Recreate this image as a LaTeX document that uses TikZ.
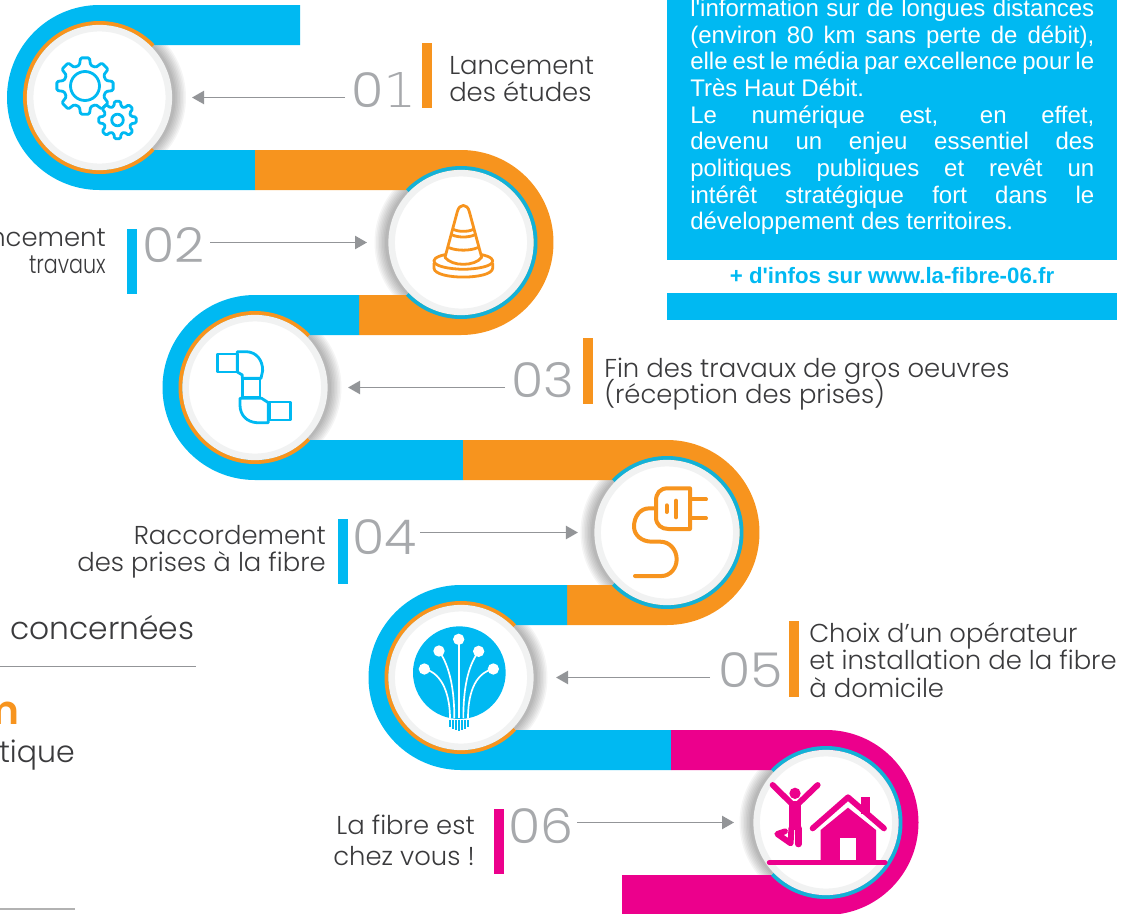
\documentclass[tikz,border=0pt]{standalone}
\usepackage{fontspec}
\usepackage{graphicx}
\setmainfont{Poppins}[UprightFont=*-Light,BoldFont=*-SemiBold]
\newfontfamily\panelfont{Liberation Sans}
\newfontfamily\footone{DejaVu Sans ExtraLight}
\usetikzlibrary{arrows.meta}
\lineskiplimit=-30pt\relax
\definecolor{cyanb}{HTML}{00B9F2}
\definecolor{orangeb}{HTML}{F7941E}
\definecolor{pinkb}{HTML}{EC008C}
\definecolor{ringteal}{HTML}{14B1D6}
\definecolor{numgray}{HTML}{A7A9AC}
\definecolor{arrgray}{HTML}{939598}
\definecolor{txtgray}{HTML}{3A3A3C}
\definecolor{softgray}{HTML}{F1F2F2}
\tikzset{
  band/.style={line width=30pt,line cap=butt,line join=round},
  disc/.style={circle,draw=softgray,line width=4.9pt,fill=white,minimum size=104pt,inner sep=0pt,outer sep=0pt},
  ringarc/.style={line width=3pt,line cap=butt},
  shadowdisc/.style={fill=black,fill opacity=.04,draw=none},
  arrowline/.style={draw=arrgray,line width=1pt,-{Triangle[length=9pt,width=10pt]}},
  numlabel/.style={font=\fontsize{36}{36}\selectfont,text=numgray,inner sep=0pt,anchor=base west,xscale=1.09},
  steptext/.style={font=\fontsize{19.4}{20}\selectfont,text=txtgray,inner sep=0pt},
  iconline/.style={line width=2.1pt,line cap=round,line join=round},
}
\newcommand{\shadowset}[3]{%
  \foreach \r in {73,74.5,...,83.5}{\fill[shadowdisc] (#1+#3*3,#2) circle (\r);}}
\newcommand{\geargear}[4]{% cx cy rout rin
  \draw[cyanb,iconline,rounded corners=1pt,shift={(#1,#2)}] (-22.5:#4)
    \foreach \i in {0,45,...,315}{ -- (\i-15:#4) -- (\i-9:#3) -- (\i+9:#3) -- (\i+15:#4)} -- cycle;}
\begin{document}
\begin{tikzpicture}[x=0.75pt,y=-0.75pt]
\clip (0,0) rectangle (1133,914);
\useasboundingbox (0,0) rectangle (1133,914);
% shadows
\shadowset{99.5}{97.5}{1}
\shadowset{461}{242.5}{-1}
\shadowset{255}{387.5}{1}
\shadowset{667}{532.5}{-1}
\shadowset{461}{677.5}{1}
\shadowset{826}{822.5}{-1}
% ribbon
\draw[band,cyanb] (300,25) -- (99.5,25) arc[start angle=270,end angle=90,radius=72.5] -- (255,170);
\draw[band,orangeb] (255,170) -- (461,170) arc[start angle=-90,end angle=90,radius=72.5] -- (359,315);
\draw[band,cyanb] (359,315) -- (255,315) arc[start angle=270,end angle=90,radius=72.5] -- (463,460);
\draw[band,orangeb] (463,460) -- (667,460) arc[start angle=-90,end angle=90,radius=72.5] -- (567,605);
\draw[band,cyanb] (567,605) -- (461,605) arc[start angle=270,end angle=90,radius=72.5] -- (671,750);
\draw[band,pinkb] (671,750) -- (826,750) arc[start angle=-90,end angle=90,radius=72.5] -- (622,895);
% rings
\draw[ringarc,orangeb] (99.5,97.5) ++(44:74.5) arc[start angle=44,end angle=316,radius=74.5];
\draw[ringarc,ringteal] (461,242.5) ++(136:74.5) arc[start angle=136,end angle=-136,radius=74.5];
\draw[ringarc,orangeb] (255,387.5) ++(44:74.5) arc[start angle=44,end angle=316,radius=74.5];
\draw[ringarc,ringteal] (667,532.5) ++(136:74.5) arc[start angle=136,end angle=-136,radius=74.5];
\draw[ringarc,orangeb] (461,677.5) ++(44:74.5) arc[start angle=44,end angle=316,radius=74.5];
\draw[ringarc,ringteal] (826,822.5) ++(136:74.5) arc[start angle=136,end angle=-136,radius=74.5];
% discs
\node[disc] (c1) at (99.5,97.5) {};
\node[disc] (c2) at (461,242.5) {};
\node[disc] (c3) at (255,387.5) {};
\node[disc] (c4) at (667,532.5) {};
\node[disc] (c5) at (461,677.5) {};
\node[disc] (c6) at (826,822.5) {};
% gears
\geargear{85}{86}{28.5}{21.5}
\draw[cyanb,iconline] (85,86) circle (14.5);
\geargear{117.5}{120}{19}{14}
\draw[cyanb,iconline] (117.5,120) circle (5.8);
% cone
\begin{scope}[shift={(370,150)},x=0.25pt,y=-0.25pt,orangeb,iconline]
\draw (225,322) -- (262,185) .. controls (268,160) and (292,160) .. (298,185) -- (335,322);
\draw (250,238) .. controls (265,246) and (295,246) .. (310,238);
\draw (247,255) .. controls (265,263) and (295,263) .. (313,255);
\draw (237,293) .. controls (260,303) and (300,303) .. (323,293);
\draw (225,322) .. controls (245,350) and (315,350) .. (335,322);
\draw (225,314) .. controls (170,325) and (180,355) .. (280,358) .. controls (380,355) and (390,325) .. (335,314);
\draw (192,340) -- (192,355) .. controls (195,390) and (365,390) .. (368,355) -- (368,340);
\end{scope}
% pipes
\begin{scope}[shift={(160,300)},x=0.25pt,y=-0.25pt,cyanb,iconline]
\draw (172,162) rectangle (232,216);
\draw (232,216) -- (232,155) -- (260,155) .. controls (290,157) and (308,180) .. (308,212) -- (303,235) -- (247,235) -- (247,225) -- (232,216);
\draw (248,235) rectangle (300,292);
\draw (240,295) -- (305,295) -- (325,308) -- (325,368) -- (290,368) .. controls (260,366) and (240,345) .. (240,315) -- cycle;
\draw (328,306) rectangle (392,360);
\end{scope}
% plug
\begin{scope}[shift={(580,440)},x=0.25pt,y=-0.25pt,orangeb,line width=3pt,line cap=round,line join=round]
\draw (330,145) -- (262,145) .. controls (240,145) and (228,160) .. (228,182) -- (228,232) .. controls (228,255) and (245,267) .. (265,267) -- (330,267) -- cycle;
\draw (330,178) -- (378,178) (330,235) -- (378,235);
\draw (260,196) -- (260,216) (288,182) -- (288,232);
\draw (228,205) -- (208,205) .. controls (180,205) and (162,230) .. (162,260) .. controls (162,285) and (185,305) .. (215,305) -- (240,305) .. controls (270,305) and (290,330) .. (290,358) .. controls (290,385) and (270,408) .. (245,408) -- (165,408);
\end{scope}
% fibre
\begin{scope}[shift={(370,590)},x=0.25pt,y=-0.25pt]
\fill[cyanb] (268,248) circle (139);
\begin{scope}[white,line width=1.25pt]
\draw (266,148) -- (266,385);
\draw (207,183) .. controls (240,230) and (253,300) .. (253,385);
\draw (326,184) .. controls (292,230) and (280,300) .. (280,385);
\draw (163,237) .. controls (220,250) and (240,320) .. (240,385);
\draw (370,237) .. controls (310,250) and (294,320) .. (294,385);
\fill (266,148) circle (17) (207,183) circle (17) (326,184) circle (17) (163,237) circle (17) (370,237) circle (17);
\end{scope}
\draw[cyanb,line width=1.1pt] (240,391) -- (240,412) (249,391) -- (249,416) (258,391) -- (258,420) (267,391) -- (267,424) (276,391) -- (276,420) (285,391) -- (285,416) (294,391) -- (294,412);
\end{scope}
% person and house
\begin{scope}[shift={(730,730)},x=0.25pt,y=-0.25pt,pinkb,line cap=round,line join=round]
\fill (195,190) circle (17);
\draw[line width=4.4pt] (128,165) -- (182,218) (263,165) -- (208,218);
\fill (176,212) -- (214,212) -- (214,300) -- (176,300) -- cycle;
\draw[line width=5pt] (205,295) -- (205,342);
\draw[line width=4.4pt] (184,295) -- (182,340) -- (142,312) -- (165,304);
\fill (272,392) -- (272,300) -- (354,233) -- (438,300) -- (438,392) -- cycle;
\fill (392,202) rectangle (420,252);
\draw[line width=4.4pt] (248,295) -- (354,202) -- (462,295);
\fill[white] (330,325) rectangle (378,390);
\draw[line width=3.8pt] (118,398) -- (465,398);
\end{scope}
% panel
\fill[cyanb] (667,0) rectangle (1117,260);
\fill[cyanb] (667,293) rectangle (1117,320);
\node[anchor=north west,inner sep=0pt,text=white,font=\panelfont\fontsize{18}{20}\selectfont] (ptext) at (690,-1) {%
  \begin{minipage}{303pt}\setlength{\parindent}{0pt}\setlength{\parfillskip}{0pt}\setlength{\baselineskip}{20pt}%
  \hbox to 303pt{l'information sur de longues distances}%
  \hbox to 303pt{(environ 80 km sans perte de débit),}%
  \hbox to 303pt{elle est le média par excellence pour le}%
  \hbox{Très Haut Débit.}%
  \hbox to 303pt{Le numérique est, en effet,}%
  \hbox to 303pt{devenu un enjeu essentiel des}%
  \hbox to 303pt{politiques publiques et revêt un}%
  \hbox to 303pt{intérêt stratégique fort dans le}%
  \hbox{développement des territoires.}%
  \end{minipage}};
\node[text=cyanb,inner sep=0pt,font=\panelfont\bfseries\fontsize{16.7}{20}\selectfont] (plink) at (892,276) {+ d'infos sur www.la-fibre-06.fr};
% steps: tick, number, text, connector
\fill[orangeb] (422,43) rectangle (432,108);
\node[numlabel] (n1) at (351,107.5) {0{\footone 1}};
\node[steptext,anchor=west,align=left] (t1) at (449,79) {Lancement\\des études};
\coordinate (s1) at (345,97.5);
\draw[arrowline,shorten >=17.4pt] (s1) -- (c1);
\fill[cyanb] (127,229) rectangle (137,294);
\node[numlabel] (n2) at (142,262.5) {02};
\node[steptext,anchor=east,align=right] (t2) at (106,251) {Lancement\\\scalebox{.8}[1]{travaux}};
\coordinate (s2) at (210,242.5);
\draw[arrowline,shorten >=18.5pt] (s2) -- (c2);
\fill[orangeb] (583,338) rectangle (593,404);
\node[numlabel] (n3) at (511,397.5) {03};
\node[steptext,anchor=west,align=left] (t3) at (604,384) {Fin des travaux de gros oeuvres\\(réception des prises)};
\coordinate (s3) at (505,387.5);
\draw[arrowline,shorten >=17.8pt] (s3) -- (c3);
\fill[cyanb] (338,519) rectangle (348,584);
\node[numlabel] (n4) at (352,554.5) {04};
\node[steptext,anchor=east,align=right] (t4) at (326,552) {Raccordement\\des prises à la fibre};
\coordinate (s4) at (420,532.5);
\draw[arrowline,shorten >=14.8pt] (s4) -- (c4);
\fill[orangeb] (789,621) rectangle (799,697);
\node[numlabel] (n5) at (718,687.5) {05};
\node[steptext,anchor=west,align=left] (t5) at (809,660) {Choix d'un opérateur\\[0.8pt]et installation de la fibre\\[0.8pt]à domicile};
\coordinate (s5) at (710,677.5);
\draw[arrowline,shorten >=19.3pt] (s5) -- (c5);
\fill[pinkb] (494,809) rectangle (504,874);
\node[numlabel] (n6) at (508,843) {06};
\node[steptext,anchor=east,align=right] (t6) at (475,840) {La fibre est\\[3.5pt]chez vous !};
\coordinate (s6) at (577,822.5);
\draw[arrowline,shorten >=17pt] (s6) -- (c6);
% cropped left fragments
\node[anchor=base west,inner sep=0pt,text=txtgray,font=\fontsize{23.5}{24}\selectfont] (f1) at (10,639) {concernées};
\draw[arrgray,line width=.75pt] (0,666) -- (196,666);
\node[anchor=base east,inner sep=0pt,text=orangeb,font=\bfseries\fontsize{30}{30}\selectfont] (f2) at (20,724) {m};
\node[anchor=base east,inner sep=0pt,text=txtgray,font=\fontsize{22.5}{24}\selectfont] (f3) at (75,762.5) {tique};
\draw[gray!60,line width=1.2pt] (0,909) -- (75,909);
\end{tikzpicture}
\end{document}
